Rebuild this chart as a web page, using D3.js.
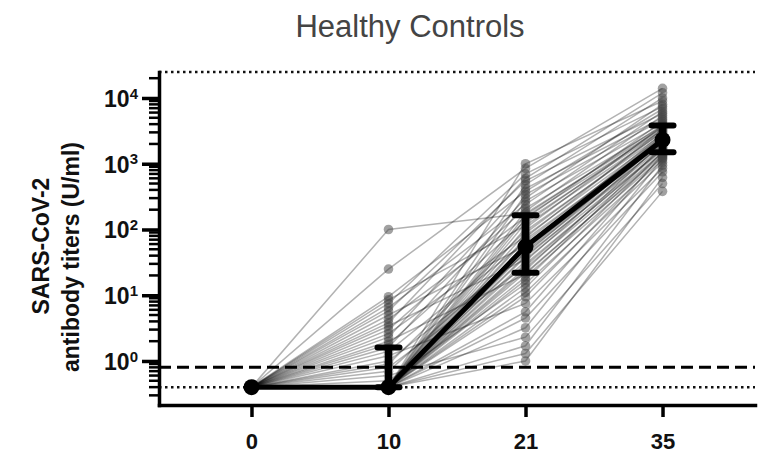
<!DOCTYPE html>
<html>
<head>
<meta charset="utf-8">
<script src="https://cdn.jsdelivr.net/npm/d3@7"></script>
<style>
  body { margin: 0; background: #fff; }
  svg { display: block; font-family: "Liberation Sans", Arial, sans-serif; }
</style>
</head>
<body>
<svg id="chart" width="766" height="455"></svg>
<script>
// days after vaccination
const days = [0, 10, 21, 35];

// titers per subject (U/ml), same subject order in every array
const day0 = [0.4, 0.4, 0.4, 0.4, 0.4, 0.4, 0.4, 0.4, 0.4, 0.4,
  0.4, 0.4, 0.4, 0.4, 0.4, 0.4, 0.4, 0.4, 0.4, 0.4,
  0.4, 0.4, 0.4, 0.4, 0.4, 0.4, 0.4, 0.4, 0.4, 0.4,
  0.4, 0.4, 0.4, 0.4, 0.4, 0.4, 0.4, 0.4, 0.4, 0.4,
  0.4, 0.4, 0.4, 0.4, 0.4, 0.4, 0.4, 0.4, 0.4, 0.4,
  0.4, 0.4, 0.4, 0.4, 0.4, 0.4, 0.4, 0.4, 0.4, 0.4];
const day10 = [0.4, 0.4, 0.4, 0.6, 0.4, 0.4, 0.4, 1.2, 0.4, 0.4,
  0.4, 0.5, 0.4, 0.4, 2.0, 0.4, 0.4, 0.4, 0.8, 0.4,
  0.4, 3.4, 0.4, 0.4, 1.0, 0.4, 0.4, 0.7, 0.4, 0.4,
  5.0, 0.4, 1.4, 0.4, 0.4, 2.6, 0.4, 0.9, 0.4, 8.5,
  0.4, 1.8, 0.4, 4.3, 0.4, 100, 0.4, 3.0, 6.5, 0.4,
  1.6, 0.4, 9.5, 2.3, 0.4, 5.8, 3.8, 7.5, 25, 0.4];
const day21 = [1.0, 1.3, 1.7, 2.3, 3.2, 4.5, 5.6, 7.5, 9.5, 11,
  13, 15, 17, 19, 21, 22, 24, 26, 28, 30,
  33, 35, 38, 40, 42, 45, 47, 50, 52, 54,
  56, 60, 65, 70, 75, 80, 88, 95, 105, 115,
  125, 135, 145, 155, 165, 175, 190, 210, 240, 270,
  300, 340, 380, 420, 480, 550, 600, 700, 850, 1000];
const day35 = [620, 380, 950, 500, 1200, 750, 1400, 850, 1300, 1050,
  1520, 1150, 1850, 1250, 1450, 1350, 2150, 1480, 1700, 1600,
  2300, 1650, 1980, 1780, 2400, 1900, 2200, 2050, 2700, 2100,
  2900, 2250, 2500, 2350, 3400, 2600, 3100, 2800, 3800, 3000,
  3600, 3200, 4400, 3300, 3900, 3500, 5400, 3700, 6200, 4100,
  8000, 4700, 6800, 5000, 10000, 5800, 12000, 7400, 14000, 9000];

// median and interquartile range per day
const medians = [0.4, 0.4, 55, 2300];
const q1 = [0.4, 0.4, 22, 1500];
const q3 = [0.4, 1.6, 165, 3800];

// reference lines
const lodLine = 0.4;
const cutoffLine = 0.8;
const upperLine = 24850;

const majorTicks = [1, 10, 100, 1000, 10000];
const minorTicks = [0.3, 0.4, 0.5, 0.6, 0.7, 0.8, 0.9,
  2, 3, 4, 5, 6, 7, 8, 9, 20, 30, 40, 50, 60, 70, 80, 90,
  200, 300, 400, 500, 600, 700, 800, 900,
  2000, 3000, 4000, 5000, 6000, 7000, 8000, 9000, 20000];

const svg = d3.select('#chart');
const mLeft = 159, mRight = 755, mTop = 72, mBottom = 405;

const x = d3.scalePoint().domain(days).range([mLeft, mRight]).padding(0.675);
const y = d3.scaleLog().domain([0.214, upperLine]).range([mBottom, mTop]);

const subjects = day0.map((v, i) => [v, day10[i], day21[i], day35[i]]);
const line = d3.line().x((d, i) => x(days[i])).y(d => y(d));

// individual subjects
svg.append('g')
  .selectAll('path')
  .data(subjects)
  .join('path')
  .attr('d', line)
  .attr('fill', 'none')
  .attr('stroke', '#000')
  .attr('stroke-opacity', 0.3)
  .attr('stroke-width', 1.5);

const pts = svg.append('g');
subjects.forEach(s => {
  pts.append('g').selectAll('circle')
    .data(s)
    .join('circle')
    .attr('cx', (d, i) => x(days[i]))
    .attr('cy', d => y(d))
    .attr('r', 4.8)
    .attr('fill', '#444')
    .attr('fill-opacity', 0.5);
});

// reference lines
const refs = svg.append('g');
refs.append('line')
  .attr('x1', mLeft).attr('x2', mRight)
  .attr('y1', y(upperLine)).attr('y2', y(upperLine))
  .attr('stroke', '#111').attr('stroke-width', 2.5)
  .attr('stroke-dasharray', '2.5 3.5');
refs.append('line')
  .attr('x1', mLeft).attr('x2', mRight)
  .attr('y1', y(lodLine)).attr('y2', y(lodLine))
  .attr('stroke', '#111').attr('stroke-width', 2.5)
  .attr('stroke-dasharray', '2.5 3.5');
refs.append('line')
  .attr('x1', mLeft).attr('x2', mRight)
  .attr('y1', y(cutoffLine)).attr('y2', y(cutoffLine))
  .attr('stroke', '#000').attr('stroke-width', 3)
  .attr('stroke-dasharray', '12 6');

// medians with IQR
const summ = svg.append('g');
summ.append('path')
  .datum(medians)
  .attr('d', line)
  .attr('fill', 'none')
  .attr('stroke', '#000')
  .attr('stroke-width', 5);

summ.selectAll('.bar')
  .data(days)
  .join('line')
  .attr('class', 'bar')
  .attr('x1', d => x(d)).attr('x2', d => x(d))
  .attr('y1', (d, i) => y(q1[i])).attr('y2', (d, i) => y(q3[i]))
  .attr('stroke', '#000').attr('stroke-width', 7);

const caps = days.flatMap((d, i) => i === 0 ? [] : [[d, q1[i]], [d, q3[i]]]);
summ.selectAll('.cap')
  .data(caps)
  .join('line')
  .attr('class', 'cap')
  .attr('x1', d => x(d[0]) - 11).attr('x2', d => x(d[0]) + 11)
  .attr('y1', d => y(d[1])).attr('y2', d => y(d[1]))
  .attr('stroke', '#000').attr('stroke-width', 6)
  .attr('stroke-linecap', 'round');

summ.selectAll('.med')
  .data(days)
  .join('circle')
  .attr('class', 'med')
  .attr('cx', d => x(d))
  .attr('cy', (d, i) => y(medians[i]))
  .attr('r', 8)
  .attr('fill', '#000');

// axes
svg.append('g')
  .selectAll('line')
  .data(minorTicks)
  .join('line')
  .attr('x1', mLeft - 10).attr('x2', mLeft)
  .attr('y1', d => y(d)).attr('y2', d => y(d))
  .attr('stroke', '#000')
  .attr('stroke-width', 2.5);

const yAxis = svg.append('g')
  .attr('transform', `translate(${mLeft},0)`)
  .call(d3.axisLeft(y).tickValues(majorTicks).tickSize(17).tickSizeOuter(0).tickFormat(() => ''));
yAxis.select('.domain').attr('stroke', '#000').attr('stroke-width', 3.5).attr('stroke-linecap', 'square');
yAxis.selectAll('.tick line').attr('stroke', '#000').attr('stroke-width', 3.5);

const yLab = yAxis.selectAll('.tick').append('text')
  .attr('x', -21)
  .attr('dy', '0.36em')
  .attr('fill', '#111')
  .attr('text-anchor', 'end')
  .style('font-size', '23px')
  .style('font-weight', 'bold');
yLab.append('tspan').text('10');
yLab.append('tspan')
  .attr('dy', '-0.55em')
  .style('font-size', '15px')
  .text(d => Math.round(Math.log10(d)));

const xAxis = svg.append('g')
  .attr('transform', `translate(0,${mBottom})`)
  .call(d3.axisBottom(x).tickSize(12).tickSizeOuter(0).tickPadding(16));
xAxis.select('.domain').attr('stroke', '#000').attr('stroke-width', 3.5).attr('stroke-linecap', 'square');
xAxis.selectAll('.tick line').attr('stroke', '#000').attr('stroke-width', 3.5);
xAxis.selectAll('.tick text')
  .attr('fill', '#111')
  .style('font-size', '22px')
  .style('font-weight', 'bold')
  .style('font-family', '"Liberation Sans", Arial, sans-serif');

// titles
svg.append('text')
  .attr('x', 410).attr('y', 37)
  .attr('text-anchor', 'middle')
  .attr('fill', '#444')
  .style('font-size', '31px')
  .text('Healthy Controls');

const yTitle = svg.append('text')
  .attr('transform', 'translate(0,254) rotate(-90)')
  .attr('text-anchor', 'middle')
  .attr('fill', '#111')
  .style('font-size', '23px')
  .style('font-weight', 'bold');
yTitle.append('tspan').attr('x', 8).attr('y', 49).text('SARS-CoV-2');
yTitle.append('tspan').attr('x', -3).attr('y', 79).text('antibody titers (U/ml)');
</script>
</body>
</html>
